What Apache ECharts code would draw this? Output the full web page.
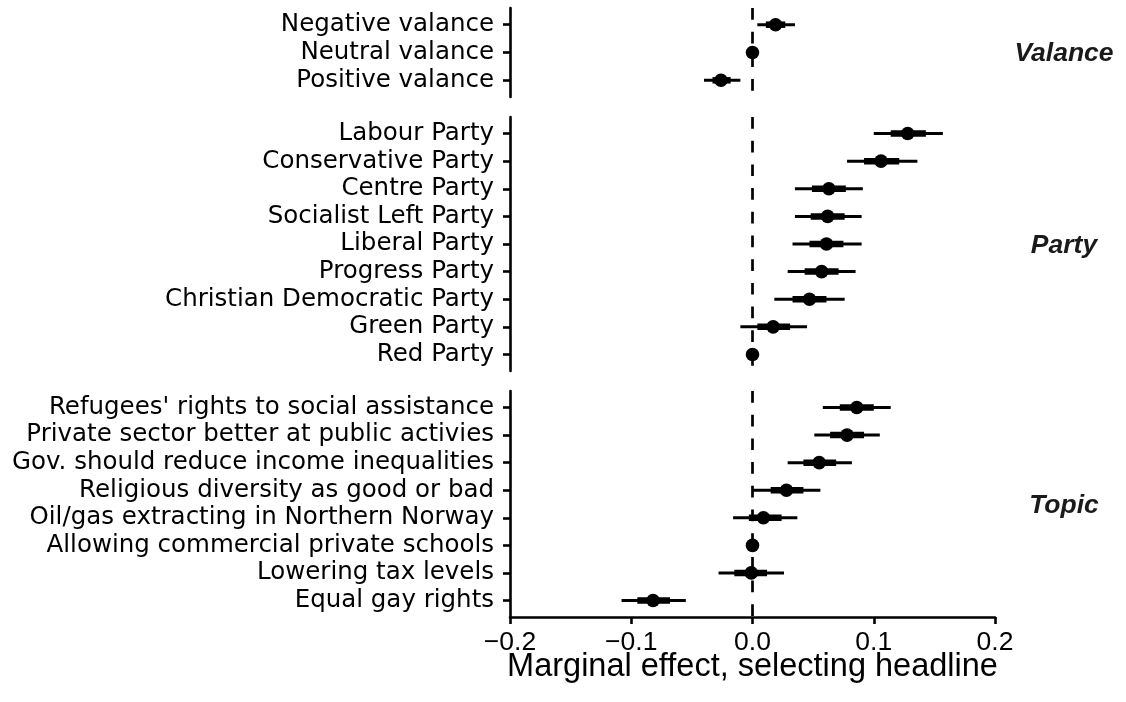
<!DOCTYPE html>
<html>
<head>
<meta charset="utf-8">
<script src="https://cdn.jsdelivr.net/npm/echarts@6/dist/echarts.min.js"></script>
<style>
html,body{margin:0;padding:0;background:#fff;}
#chart{width:1126px;height:702px;}
</style>
</head>
<body>
<div id="chart"></div>
<script>
// ---- Data ----
var panelNames = ['Valance', 'Party', 'Topic'];

var valanceCats = ['Negative valance', 'Neutral valance', 'Positive valance'];
var valanceEst  = [0.019, 0, -0.026];
var valanceLo   = [0.004, 0, -0.040];
var valanceHi   = [0.035, 0, -0.010];
var valanceLoIn = [0.011, 0, -0.033];
var valanceHiIn = [0.027, 0, -0.018];

var partyCats = ['Labour Party', 'Conservative Party', 'Centre Party', 'Socialist Left Party',
  'Liberal Party', 'Progress Party', 'Christian Democratic Party', 'Green Party', 'Red Party'];
var partyEst  = [0.128, 0.106, 0.063, 0.062, 0.061, 0.057, 0.047, 0.017, 0];
var partyLo   = [0.100, 0.078, 0.035, 0.035, 0.033, 0.029, 0.018, -0.010, 0];
var partyHi   = [0.157, 0.136, 0.091, 0.090, 0.090, 0.085, 0.076, 0.045, 0];
var partyLoIn = [0.114, 0.092, 0.049, 0.048, 0.047, 0.043, 0.033, 0.004, 0];
var partyHiIn = [0.143, 0.121, 0.077, 0.076, 0.075, 0.071, 0.061, 0.031, 0];

var topicCats = ["Refugees' rights to social assistance", 'Private sector better at public activies',
  'Gov. should reduce income inequalities', 'Religious diversity as good or bad',
  'Oil/gas extracting in Northern Norway', 'Allowing commercial private schools',
  'Lowering tax levels', 'Equal gay rights'];
var topicEst  = [0.086, 0.078, 0.055, 0.028, 0.009, 0, -0.001, -0.082];
var topicLo   = [0.058, 0.051, 0.029, 0.000, -0.016, 0, -0.028, -0.108];
var topicHi   = [0.114, 0.105, 0.082, 0.056, 0.037, 0, 0.026, -0.055];
var topicLoIn = [0.072, 0.064, 0.042, 0.015, -0.003, 0, -0.015, -0.095];
var topicHiIn = [0.100, 0.092, 0.069, 0.042, 0.024, 0, 0.012, -0.068];

var xTicks = [-0.2, -0.1, 0.0, 0.1, 0.2];
var xTitle = 'Marginal effect, selecting headline';

// ---- Build ----
var FONT = '"DejaVu Sans", "Liberation Sans", Arial, sans-serif';
var FONT2 = '"Liberation Sans", Arial, Helvetica, sans-serif';
var panels = [
  {cats: valanceCats, est: valanceEst, lo: valanceLo, hi: valanceHi, loIn: valanceLoIn, hiIn: valanceHiIn, top: 8, height: 89},
  {cats: partyCats, est: partyEst, lo: partyLo, hi: partyHi, loIn: partyLoIn, hiIn: partyHiIn, top: 117, height: 254},
  {cats: topicCats, est: topicEst, lo: topicLo, hi: topicHi, loIn: topicLoIn, hiIn: topicHiIn, top: 391, height: 226}
];

var grids = [], xAxes = [], yAxes = [], series = [], graphics = [];

function renderItem(params, api) {
  var y = api.value(0);
  var est = api.value(1), lo = api.value(2), hi = api.value(3), loIn = api.value(4), hiIn = api.value(5);
  var pLo = api.coord([lo, y]), pHi = api.coord([hi, y]);
  var pLoIn = api.coord([loIn, y]), pHiIn = api.coord([hiIn, y]);
  var pE = api.coord([est, y]);
  var children = [];
  if (hi > lo) {
    children.push({type: 'line', shape: {x1: pLo[0], y1: pLo[1], x2: pHi[0], y2: pHi[1]},
      style: {stroke: '#000', lineWidth: 3, lineCap: 'butt'}});
  }
  if (hiIn > loIn) {
    children.push({type: 'line', shape: {x1: pLoIn[0], y1: pLoIn[1], x2: pHiIn[0], y2: pHiIn[1]},
      style: {stroke: '#000', lineWidth: 6.5, lineCap: 'butt'}});
  }
  children.push({type: 'circle', shape: {cx: pE[0], cy: pE[1], r: 6.8}, style: {fill: '#000'}});
  return {type: 'group', children: children};
}

panels.forEach(function (p, i) {
  var n = p.cats.length;
  var idx = [];
  for (var k = 0; k < n; k++) idx.push(k);
  grids.push({left: 510, right: 131, top: p.top, height: p.height, containLabel: false, outerBoundsMode: 'none'});
  var last = (i === panels.length - 1);
  xAxes.push({
    gridIndex: i, type: 'value', min: -0.2, max: 0.2, interval: 0.1,
    show: last,
    splitLine: {show: false},
    axisLine: {show: last, onZero: false, lineStyle: {color: '#000', width: 2.6}},
    axisTick: {show: last, length: 7, lineStyle: {color: '#000', width: 2.6}},
    axisLabel: {show: last, margin: 12, color: '#000', fontFamily: FONT2, fontSize: 26.5,
      customValues: xTicks,
      formatter: function (v) { return (v < -1e-9 ? '\u2212' : '') + Math.abs(v).toFixed(1); }},
    name: last ? xTitle : '', nameLocation: 'middle', nameGap: 34, nameMoveOverlap: false,
    nameTextStyle: {color: '#000', fontFamily: FONT2, fontSize: 32.5}
  });
  yAxes.push({
    gridIndex: i, type: 'value', inverse: true, min: -0.6, max: n - 0.4,
    splitLine: {show: false},
    axisLine: {show: true, onZero: false, lineStyle: {color: '#000', width: 2.6}},
    axisTick: {show: true, length: 7, customValues: idx, lineStyle: {color: '#000', width: 2.6}},
    axisLabel: {show: true, margin: 16, color: '#000', fontFamily: FONT, fontSize: 24.5,
      customValues: idx,
      formatter: (function (cats) { return function (v) { return cats[Math.round(v)]; }; })(p.cats)}
  });
  var data = [];
  for (var k = 0; k < n; k++) data.push([k, p.est[k], p.lo[k], p.hi[k], p.loIn[k], p.hiIn[k]]);
  series.push({
    type: 'scatter', xAxisIndex: i, yAxisIndex: i, data: [], z: 1, silent: true,
    markLine: {silent: true, symbol: 'none', animation: false,
      label: {show: false},
      lineStyle: {color: '#000', width: 2.7, type: [11.7, 12]},
      data: [{xAxis: 0}]}
  });
  series.push({
    type: 'custom', xAxisIndex: i, yAxisIndex: i, z: 3, animation: false,
    renderItem: renderItem,
    encode: {x: [1, 2, 3], y: 0},
    data: data
  });
  graphics.push({
    type: 'text', x: 1064, y: p.top + p.height / 2 + 1.5,
    style: {text: panelNames[i], fill: '#1a1a1a', font: 'italic bold 26.5px ' + FONT2,
      textAlign: 'center', textVerticalAlign: 'middle'}
  });
});

var chart = echarts.init(document.getElementById('chart'), null, {renderer: 'canvas'});
chart.setOption({
  backgroundColor: '#fff',
  animation: false,
  grid: grids,
  xAxis: xAxes,
  yAxis: yAxes,
  series: series,
  graphic: graphics
});
</script>
</body>
</html>
